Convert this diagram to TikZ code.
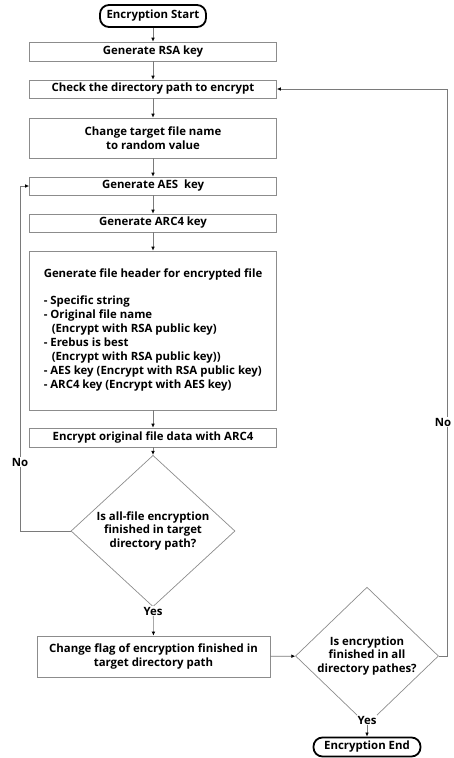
\documentclass[tikz,border=0pt]{standalone}
\usepackage{fontspec}
\setmainfont{Open Sans}
\usetikzlibrary{arrows.meta,shapes.geometric,calc}
\definecolor{boxgray}{HTML}{8C8C8C}
\definecolor{linegray}{HTML}{7A7A7A}
\tikzset{>={Latex[black,length=4pt,width=3.6pt]}}
\tikzstyle{procbox}=[rectangle,draw=boxgray,line width=0.7pt,minimum width=247pt,inner sep=1pt,align=center,font=\bfseries\fontsize{11.4}{14}\selectfont]
\tikzstyle{termbox}=[rectangle,draw=black,line width=1.8pt,rounded corners=9pt,inner sep=1pt,font=\bfseries\fontsize{11.4}{14}\selectfont]
\tikzstyle{decbox}=[diamond,draw=boxgray,line width=0.7pt,inner sep=0pt,align=center,font=\bfseries\fontsize{11.4}{13.5}\selectfont]
\tikzstyle{flow}=[draw=linegray,line width=0.7pt,->]
\tikzstyle{lbl}=[fill=white,inner sep=1pt,font=\bfseries\fontsize{11.4}{12}\selectfont]

\begin{document}
\begin{tikzpicture}[x=1pt,y=-1pt]
\def \cx {153};
\def \wid {247};
\def \ind {\hspace*{8pt}};

\useasboundingbox (0,0) rectangle (454,758);

% main column
\node[termbox,minimum width=106pt,minimum height=22pt] (start) at (\cx,16) {Encryption Start};
\node[procbox,minimum height=19pt] (rsa) at (\cx,51.5) {Generate RSA key};
\node[procbox,minimum height=18pt] (check) at (\cx,89) {Check the directory path to encrypt};
\node[procbox,minimum height=40pt] (rename) at (\cx,138) {Change target file name\\to random value};
\node[procbox,minimum height=18pt] (aes) at (\cx,186) {Generate AES\ \ key};
\node[procbox,minimum height=18pt] (arc) at (\cx,223) {Generate ARC4 key};
\node[procbox,minimum height=159pt,align=left] (header) at (\cx,330.5)
    {Generate file header for encrypted file\\[13pt]
     - Specific string\\
     - Original file name\\
     \ind(Encrypt with RSA public key)\\
     - Erebus is best\\
     \ind(Encrypt with RSA public key))\\
     - AES key (Encrypt with RSA public key)\\
     - ARC4 key (Encrypt with AES key)};
\node[procbox,minimum height=19pt] (encdata) at (\cx,437.5) {Encrypt original file data with ARC4};
\node[decbox,minimum width=164pt,minimum height=130pt] (dec1) at (\cx,531)
    {Is all-file encryption\\finished in target\\directory path?};
\node[procbox,minimum width=233pt,minimum height=41pt] (flag) at (153.5,656.5)
    {Change flag of encryption finished in\\target directory path};
\node[decbox,minimum width=143pt,minimum height=108pt] (dec2) at (367,656)
    {Is encryption\\finished in all\\directory pathes?};
\node[termbox,minimum width=107pt,minimum height=19pt] (stop) at (367,747) {Encryption End};

% loop corners
\coordinate (loopL) at (20,186);
\coordinate (loopR) at (447,89);

\draw[flow] (start) -- (rsa);
\draw[flow] (rsa) -- (check);
\draw[flow] (check) -- (rename);
\draw[flow] (rename) -- (aes);
\draw[flow] (aes) -- (arc);
\draw[flow] (arc) -- (header);
\draw[flow] (header) -- (encdata);
\draw[flow] (encdata) -- (dec1);
\draw[flow] (dec1) -- (flag);
\draw[flow] (flag) -- (dec2);
\draw[flow] (dec2) -- (stop);
\draw[flow] (dec1.west) -| (loopL) -- (aes.west);
\draw[flow] (dec2.east) -| (loopR) -- (check.east);

\node[lbl] (yes1) at (\cx,611) {Yes};
\node[lbl] (yes2) at (367,720) {Yes};
\node[lbl] (no1) at (20,462) {No};
\node[lbl] (no2) at (443,422) {No};

\end{tikzpicture}
\end{document}
